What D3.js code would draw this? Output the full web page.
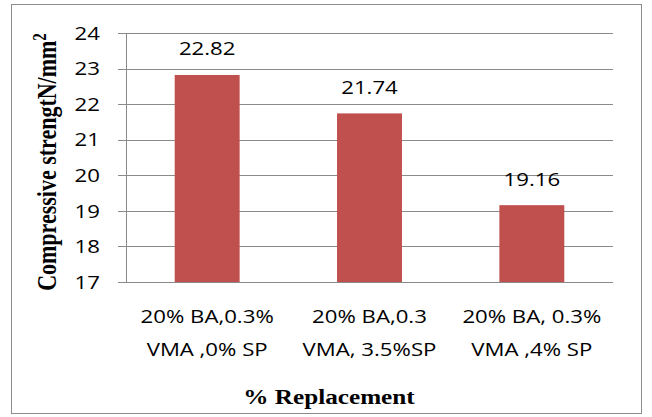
<!DOCTYPE html>
<html><head><meta charset="utf-8">
<script src="https://cdn.jsdelivr.net/npm/d3@7"></script>
<style>body{margin:0;background:#fff}</style>
</head><body>
<svg id="c" width="652" height="417"></svg>
<script>
const categories = [["20% BA,0.3%","VMA ,0% SP"],["20% BA,0.3","VMA, 3.5%SP"],["20% BA, 0.3%","VMA ,4% SP"]];
const values = [22.82, 21.74, 19.16];
const yTicks = [17,18,19,20,21,22,23,24];

const svg = d3.select("#c");
const L=126, R=613, T=33, B=282;
const SX = 1.2;
svg.append("rect").attr("x",11.5).attr("y",4.5).attr("width",630).attr("height",409)
  .attr("fill","#fff").attr("stroke","#8c8c8c").attr("stroke-width",1);

const x = d3.scaleBand().domain(d3.range(categories.length)).range([L,R]).padding(0);
const y = d3.scaleLinear().domain([17,24]).range([B,T]);

const font = "'Open Sans', 'Noto Sans', sans-serif";
const fs = 18.5;
svg.append("g").selectAll("line").data(yTicks).join("line")
  .attr("x1",118).attr("x2",R).attr("y1",d=>Math.round(y(d))+0.5).attr("y2",d=>Math.round(y(d))+0.5)
  .attr("stroke","#8a8a8a").attr("stroke-width",1);
svg.append("line").attr("x1",L+0.5).attr("x2",L+0.5).attr("y1",T).attr("y2",B)
  .attr("stroke","#8a8a8a");
svg.append("g").selectAll("text").data(yTicks).join("text")
  .attr("transform",d=>`translate(100,${y(d)}) scale(${SX},1)`).attr("dy","0.36em").attr("text-anchor","end")
  .attr("font-family",font).attr("font-size",fs).attr("fill","#000").text(d=>d);

const bw = x.bandwidth()*0.4;
svg.append("g").selectAll("rect").data(values).join("rect")
  .attr("x",(d,i)=>x(i)+x.bandwidth()/2-bw/2).attr("width",bw)
  .attr("y",d=>y(d)).attr("height",d=>B-y(d)).attr("fill","#C0504D");
svg.append("line").attr("x1",L).attr("x2",R).attr("y1",B+0.5).attr("y2",B+0.5).attr("stroke","#8a8a8a");

svg.append("g").selectAll("text").data(values).join("text")
  .attr("transform",(d,i)=>`translate(${x(i)+x.bandwidth()/2},${y(d)-19.5}) scale(${SX},1)`).attr("text-anchor","middle")
  .attr("font-family",font).attr("font-size",fs).attr("fill","#000").text(d=>d.toFixed(2));

const cg = svg.append("g").selectAll("g").data(categories).join("g")
  .attr("transform",(d,i)=>`translate(${x(i)+x.bandwidth()/2},0) scale(${SX},1)`);
cg.each(function(d){
  const g=d3.select(this);
  d.forEach((line,j)=>g.append("text").attr("x",0).attr("y",323.5+j*33).attr("text-anchor","middle")
    .attr("font-family",font).attr("font-size",fs).attr("fill","#000").text(line));
});

svg.append("text").attr("transform",`translate(329,404) scale(${SX},1)`).attr("text-anchor","middle")
  .attr("font-family","'Liberation Serif', serif").attr("font-weight","bold").attr("font-size",21)
  .text("% Replacement");
svg.append("text").attr("transform",`translate(56,162) scale(1.25,1) rotate(-90)`).attr("text-anchor","middle")
  .attr("font-family","'Liberation Serif', serif").attr("font-weight","bold").attr("font-size",22)
  .html("Compressive strengtN/mm<tspan dy='-8' font-size='15'>2</tspan>");
</script>
</body></html>
